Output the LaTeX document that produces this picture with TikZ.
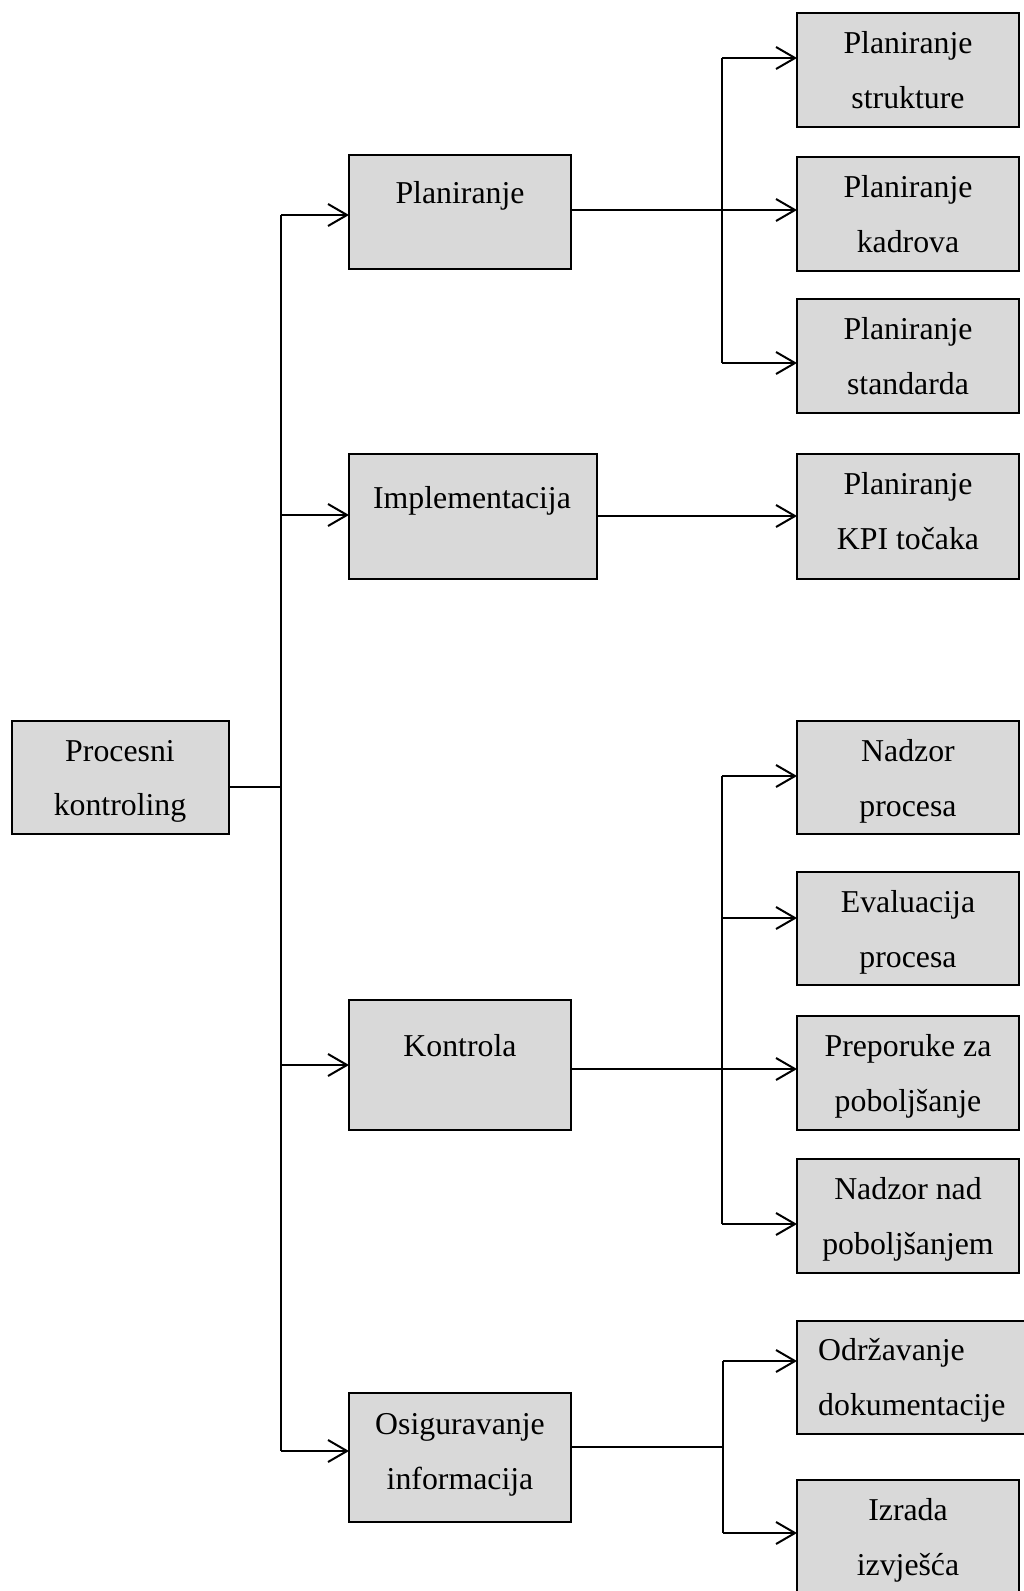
\documentclass[tikz,border=0pt]{standalone}
\usepackage{fontspec}
\setmainfont{Liberation Serif}
\usetikzlibrary{arrows.meta}
\definecolor{boxgray}{HTML}{D9D9D9}
\begin{document}
\begin{tikzpicture}[x=1pt,y=-1pt,
  box/.style={draw=black, line width=2pt, fill=boxgray, anchor=north west, inner sep=0pt, outer sep=0pt},
  lbl/.style={anchor=base, inner sep=0pt, font=\fontsize{31.8}{38}\selectfont},
  lblw/.style={lbl, anchor=base west},
  ln/.style={line width=2pt},
  thin/.style={line width=1.5pt},
  arr/.style={line width=2pt, -{Straight Barb[length=19pt,width=22pt]}},
  tarr/.style={line width=1.5pt, -{Straight Barb[length=19pt,width=22pt,line width=2pt]}}]
\useasboundingbox (0,0) rectangle (1024,1591);

% boxes
\node[box, minimum width=217pt, minimum height=113pt] (proc) at (12,721) {};
\node[box, minimum width=222pt, minimum height=114pt] (plan) at (349,155) {};
\node[box, minimum width=248pt, minimum height=125pt] (impl) at (349,454) {};
\node[box, minimum width=222pt, minimum height=130pt] (kont) at (349,1000) {};
\node[box, minimum width=222pt, minimum height=129pt] (osig) at (349,1393) {};
\node[box, minimum width=222pt, minimum height=114pt] (r1) at (797,13) {};
\node[box, minimum width=222pt, minimum height=114pt] (r2) at (797,157) {};
\node[box, minimum width=222pt, minimum height=114pt] (r3) at (797,299) {};
\node[box, minimum width=222pt, minimum height=125pt] (r4) at (797,454) {};
\node[box, minimum width=222pt, minimum height=113pt] (r5) at (797,721) {};
\node[box, minimum width=222pt, minimum height=113pt] (r6) at (797,872) {};
\node[box, minimum width=222pt, minimum height=114pt] (r7) at (797,1016) {};
\node[box, minimum width=222pt, minimum height=114pt] (r8) at (797,1159) {};
\node[box, minimum width=234pt, minimum height=113pt] (r9) at (797,1321) {};
\node[box, minimum width=222pt, minimum height=130pt] (r10) at (797,1480) {};

% labels
\node[lbl] (procA) at (120,761) {Procesni};
\node[lbl] (procB) at (120,815) {kontroling};
\node[lbl] (planA) at (460,203) {Planiranje};
\node[lbl] (implA) at (472,508) {Implementacija};
\node[lbl] (kontA) at (460,1056) {Kontrola};
\node[lbl] (osigA) at (460,1434) {Osiguravanje};
\node[lbl] (osigB) at (460,1489) {informacija};
\node[lbl] (r1A) at (908,53) {Planiranje};
\node[lbl] (r1B) at (908,108) {strukture};
\node[lbl] (r2A) at (908,197) {Planiranje};
\node[lbl] (r2B) at (908,252) {kadrova};
\node[lbl] (r3A) at (908,339) {Planiranje};
\node[lbl] (r3B) at (908,394) {standarda};
\node[lbl] (r4A) at (908,494) {Planiranje};
\node[lbl] (r4B) at (908,549) {KPI točaka};
\node[lbl] (r5A) at (908,761) {Nadzor};
\node[lbl] (r5B) at (908,816) {procesa};
\node[lbl] (r6A) at (908,912) {Evaluacija};
\node[lbl] (r6B) at (908,967) {procesa};
\node[lbl] (r7A) at (908,1056) {Preporuke za};
\node[lbl] (r7B) at (908,1111) {poboljšanje};
\node[lbl] (r8A) at (908,1199) {Nadzor nad};
\node[lbl] (r8B) at (908,1254) {poboljšanjem};
\node[lblw] (r9A) at (818,1360) {Održavanje};
\node[lblw] (r9B) at (818,1415) {dokumentacije};
\node[lbl] (r10A) at (908,1520) {Izrada};
\node[lbl] (r10B) at (908,1575) {izvješća};

% main trunk
\coordinate (tp) at (281,787);
\coordinate (t1) at (281,215);
\coordinate (t2) at (281,515);
\coordinate (t3) at (281,1065);
\coordinate (t4) at (281,1451);
\draw[ln] (proc.east |- tp) -- (tp);
\draw[ln] (t1) -- (t4);
\draw[arr] (t1) -- (t1 -| plan.west);
\draw[arr] (t2) -- (t2 -| impl.west);
\draw[arr] (t3) -- (t3 -| kont.west);
\draw[arr] (t4) -- (t4 -| osig.west);

% Planiranje branch
\coordinate (pa) at (722,58);
\coordinate (pb) at (722,210);
\coordinate (pc) at (722,363);
\draw[tarr] (plan.east |- pb) -- (pb -| r2.west);
\draw[ln] (pa) -- (pc);
\draw[arr] (pa) -- (pa -| r1.west);
\draw[arr] (pc) -- (pc -| r3.west);

% Implementacija branch
\coordinate (ia) at (600,516);
\draw[arr] (impl.east |- ia) -- (ia -| r4.west);

% Kontrola branch
\coordinate (ka) at (722,776);
\coordinate (kb) at (722,918);
\coordinate (kc) at (722,1069);
\coordinate (kd) at (722,1224);
\draw[tarr] (kont.east |- kc) -- (kc -| r7.west);
\draw[ln] (ka) -- (kd);
\draw[arr] (ka) -- (ka -| r5.west);
\draw[arr] (kb) -- (kb -| r6.west);
\draw[arr] (kd) -- (kd -| r8.west);

% Osiguravanje branch
\coordinate (oa) at (723,1361);
\coordinate (ob) at (723,1447);
\coordinate (oc) at (723,1533);
\draw[ln] (osig.east |- ob) -- (ob);
\draw[ln] (oa) -- (oc);
\draw[arr] (oa) -- (oa -| r9.west);
\draw[arr] (oc) -- (oc -| r10.west);
\end{tikzpicture}
\end{document}
